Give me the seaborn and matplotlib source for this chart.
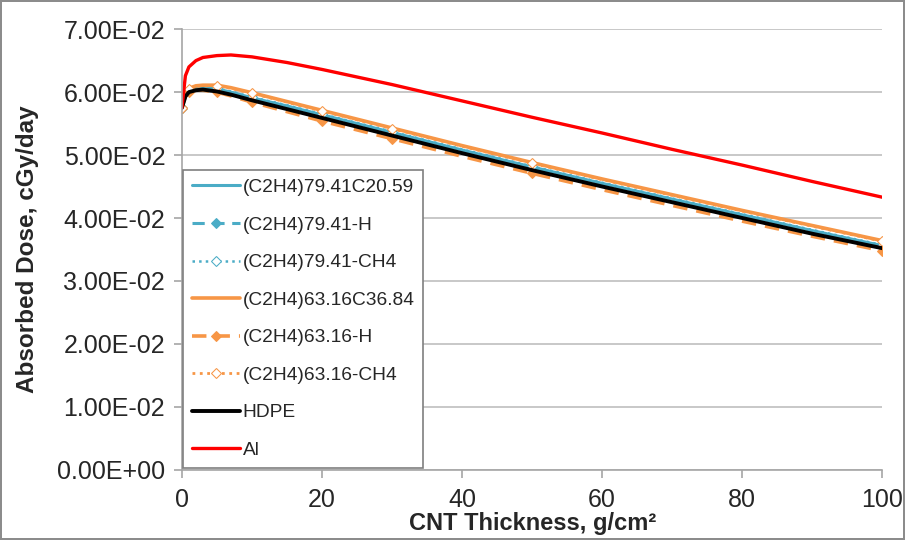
import numpy as np
import pandas as pd
import seaborn as sns
import matplotlib.pyplot as plt
from matplotlib.ticker import FuncFormatter

# CNT thickness, g/cm2
thickness = [0, 0.5, 1, 2, 3, 5, 7, 10, 15, 20, 25, 30, 40, 50, 60, 70, 80, 90, 100]
# points that carry a marker in the original chart
marker_pts = [0, 1, 5, 10, 20, 30, 50, 100]

# absorbed dose, cGy/day
pe79_c = [0.0575, 0.0595, 0.0602, 0.0606, 0.0607, 0.0605, 0.0600, 0.0591, 0.0578, 0.0564, 0.0550, 0.0536, 0.0508, 0.0481, 0.0455, 0.0430, 0.0405, 0.0380, 0.0356]
pe79_h = [0.0575, 0.0594, 0.0601, 0.0605, 0.0606, 0.0604, 0.0599, 0.0590, 0.0577, 0.0563, 0.0549, 0.0535, 0.0507, 0.0480, 0.0454, 0.0429, 0.0404, 0.0379, 0.0355]
pe79_ch4 = [0.0575, 0.0596, 0.0603, 0.0607, 0.0608, 0.0606, 0.0601, 0.0592, 0.0579, 0.0565, 0.0551, 0.0537, 0.0509, 0.0482, 0.0456, 0.0431, 0.0406, 0.0381, 0.0357]
pe63_c = [0.0575, 0.0598, 0.0606, 0.0610, 0.0611, 0.0611, 0.0607, 0.0599, 0.0585, 0.0571, 0.0557, 0.0543, 0.0515, 0.0488, 0.0462, 0.0437, 0.0412, 0.0388, 0.0364]
pe63_h = [0.0575, 0.0594, 0.0600, 0.0603, 0.0603, 0.0600, 0.0594, 0.0584, 0.0569, 0.0554, 0.0540, 0.0526, 0.0498, 0.0471, 0.0445, 0.0420, 0.0395, 0.0371, 0.0348]
pe63_ch4 = [0.0575, 0.0597, 0.0605, 0.0609, 0.0610, 0.0610, 0.0606, 0.0598, 0.0584, 0.0570, 0.0556, 0.0542, 0.0514, 0.0487, 0.0461, 0.0436, 0.0411, 0.0387, 0.0363]
hdpe = [0.0575, 0.0593, 0.0600, 0.0603, 0.0604, 0.0601, 0.0596, 0.0587, 0.0573, 0.0559, 0.0545, 0.0531, 0.0503, 0.0476, 0.0450, 0.0425, 0.0400, 0.0375, 0.0352]
al = [0.0575, 0.0626, 0.0640, 0.0650, 0.0655, 0.0658, 0.0659, 0.0656, 0.0647, 0.0636, 0.0624, 0.0612, 0.0586, 0.0560, 0.0535, 0.0509, 0.0484, 0.0458, 0.0433]

series = [
    ("(C2H4)79.41C20.59", pe79_c),
    ("(C2H4)79.41-H", pe79_h),
    ("(C2H4)79.41-CH4", pe79_ch4),
    ("(C2H4)63.16C36.84", pe63_c),
    ("(C2H4)63.16-H", pe63_h),
    ("(C2H4)63.16-CH4", pe63_ch4),
    ("HDPE", hdpe),
    ("Al", al),
]

blue = "#4bacc6"
orange = "#f79646"
styles = {
    "(C2H4)79.41C20.59": dict(color=blue, linestyle="-", lw=2.2),
    "(C2H4)79.41-H": dict(color=blue, linestyle=(0, (4, 2.5)), lw=2.2, marker="D", ms=5, mfc=blue),
    "(C2H4)79.41-CH4": dict(color=blue, linestyle=":", lw=1.8, marker="D", ms=5, mfc="white"),
    "(C2H4)63.16C36.84": dict(color=orange, linestyle="-", lw=2.6),
    "(C2H4)63.16-H": dict(color=orange, linestyle=(0, (4, 2.5)), lw=2.6, marker="D", ms=5, mfc=orange),
    "(C2H4)63.16-CH4": dict(color=orange, linestyle=":", lw=2.0, marker="D", ms=5, mfc="white"),
    "HDPE": dict(color="black", linestyle="-", lw=2.8),
    "Al": dict(color="#ff0000", linestyle="-", lw=2.4),
}

sns.set_style("white")
plt.rcParams["font.family"] = ["Liberation Sans", "DejaVu Sans"]

fig = plt.figure(figsize=(9.05, 5.4), dpi=100)
ax = fig.add_axes([0.201, 0.130, 0.774, 0.816])

mark_idx = [thickness.index(v) for v in marker_pts]
for name, vals in series:
    df = pd.DataFrame({"x": thickness, "y": vals})
    st = dict(styles[name])
    if "marker" in st:
        st["markevery"] = mark_idx
        st["mec"] = st["color"]
    sns.lineplot(data=df, x="x", y="y", ax=ax, label=name, **st)

ax.set_xlim(0, 100)
ax.set_ylim(0, 0.07)
ax.set_xticks([0, 20, 40, 60, 80, 100])
ax.set_yticks(np.arange(0, 0.0701, 0.01))
ax.yaxis.set_major_formatter(FuncFormatter(lambda v, p: f"{v:.2E}"))
ax.yaxis.grid(True, color="#bfbfbf", lw=1.2)
ax.xaxis.grid(False)
ax.set_axisbelow(True)
for s in ["top", "right"]:
    ax.spines[s].set_visible(False)
for s in ["left", "bottom"]:
    ax.spines[s].set_color("#a6a6a6")
    ax.spines[s].set_linewidth(1.2)
ax.tick_params(axis="both", which="major", labelsize=18, length=6, width=1.2,
               color="#a6a6a6", direction="out", left=True, bottom=True)
ax.tick_params(axis="y", pad=6)
ax.tick_params(axis="x", pad=7)

ax.set_xlabel("CNT Thickness, g/cm²", fontsize=17, fontweight="bold", labelpad=0)
ax.set_ylabel("Absorbed Dose, cGy/day", fontsize=17.5, fontweight="bold", labelpad=13)

leg = ax.legend(loc="lower left", bbox_to_anchor=(0.002, 0.005), fontsize=13.8,
                frameon=True, fancybox=False, framealpha=1, edgecolor="#7f7f7f",
                handlelength=2.5, handletextpad=0.15, labelspacing=1.05,
                borderpad=0.45, borderaxespad=0)
leg.get_frame().set_linewidth(1.2)

fig.patch.set_edgecolor("#8c8c8c")
fig.patch.set_linewidth(1.5)

plt.savefig("out.png", dpi=100, edgecolor=fig.get_edgecolor())
